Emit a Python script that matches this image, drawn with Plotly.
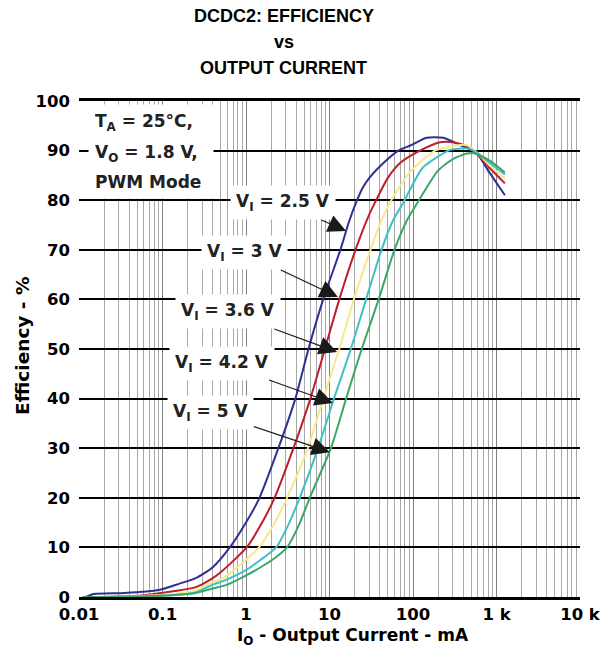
import math
import plotly.graph_objects as go

# ---------------- data ----------------
blue_x = [0.012, 0.015, 0.035, 0.09, 0.16, 0.25, 0.4, 0.64, 1.0, 1.45, 2.44, 3.9, 5.6, 8.4, 13.5, 17, 20.8, 25, 30, 40, 66.7, 95, 145, 230, 366, 575, 830, 1260]
blue_y = [0, 0.6, 0.8, 1.4, 2.7, 3.8, 6.0, 10, 15, 20, 30, 40, 50, 60, 70, 75.5, 79.5, 82.5, 84.5, 86.8, 90, 91.1, 92.6, 92.6, 91.1, 89.5, 85.5, 81]

red_x = [0.02, 0.056, 0.14, 0.25, 0.4, 0.53, 1.02, 1.5, 2.2, 3.7, 5.9, 8.8, 13.1, 20.5, 28, 35, 50, 70, 121, 210, 300, 430, 575, 830, 1260]
red_y = [0, 0.3, 1.2, 2.0, 3.8, 5.4, 10, 14.5, 20, 30, 40, 50, 60, 70, 76, 79.5, 84.5, 87.5, 90, 91.7, 91.7, 91, 89.5, 86.5, 83.4]

yellow_x = [0.032, 0.14, 0.25, 0.4, 0.53, 1.0, 1.43, 2.1, 3.1, 5.5, 8.4, 13.1, 19.6, 31, 42, 53, 90, 183, 340, 440, 575, 830, 1260]
yellow_y = [0, 0.6, 1.3, 3.0, 3.8, 7.5, 10, 14.3, 20, 30, 40, 50, 60, 70, 76, 79.5, 85.5, 90, 91.1, 91.1, 89.7, 87, 84.4]

cyan_x = [0.04, 0.14, 0.25, 0.4, 0.55, 1.02, 1.5, 2.3, 3.2, 4.4, 7.3, 11.3, 18, 27.4, 42, 58, 76.5, 130, 265, 366, 460, 575, 830, 1260]
cyan_y = [0, 0.4, 0.9, 2.5, 3.3, 5.5, 7.5, 10, 14.5, 20, 30, 40, 50, 60, 70, 76, 79.5, 86.5, 90, 90.4, 90.4, 89.7, 87.5, 85.2]

green_x = [0.011, 0.05, 0.14, 0.25, 0.4, 0.6, 1.02, 1.5, 2.2, 3.1, 4.3, 5.8, 10.4, 15.8, 24.3, 38.8, 60, 85, 113, 200, 300, 440, 525, 830, 1260]
green_y = [0, 0.1, 0.4, 0.8, 1.7, 2.5, 4.4, 6, 7.8, 10, 14.5, 20, 30, 40, 50, 60, 70, 76, 79.5, 86, 88.3, 89.4, 89.5, 88, 85.6]

series_names = ["V<sub>I</sub> = 2.5 V", "V<sub>I</sub> = 3 V", "V<sub>I</sub> = 3.6 V", "V<sub>I</sub> = 4.2 V", "V<sub>I</sub> = 5 V"]
series_colors = ["#2E3192", "#BE1E2D", "#F7E98A", "#3EC1C4", "#3BA56B"]

# arrow tip positions on each curve (current mA, efficiency %)
label_tip_x = [15.8, 12.6, 12.3, 11.0, 10.1]
label_tip_y = [73.8, 60.5, 49.4, 39.1, 29.2]
label_off_x = [-63, -93, -109, -111, -119]
label_off_y = [-28, -44, -40, -40, -40]

x_tick_vals = [0.01, 0.1, 1, 10, 100, 1000, 10000]
x_tick_text = ["0.01", "0.1", "1", "10", "100", "1 k", "10 k"]
y_tick_vals = [0, 10, 20, 30, 40, 50, 60, 70, 80, 90, 100]
minor_vals = [m * 10.0 ** d for d in range(-2, 4) for m in range(2, 10)]

TITLE_FONT = "Liberation Sans, Arial, Helvetica, sans-serif"
FONT = "DejaVu Sans, Verdana, sans-serif"

fig = go.Figure()
data = [(blue_x, blue_y), (red_x, red_y), (yellow_x, yellow_y), (cyan_x, cyan_y), (green_x, green_y)]
for (xs, ys), name, col in zip(data, series_names, series_colors):
    fig.add_trace(go.Scatter(x=xs, y=ys, mode="lines", name=name,
                             line=dict(color=col, width=2, shape="spline", smoothing=0.6),
                             showlegend=False))

# title lines
for txt, yy in [("DCDC2: EFFICIENCY", 1.171), ("vs", 1.119), ("OUTPUT CURRENT", 1.0665)]:
    fig.add_annotation(text=txt, xref="paper", yref="paper", x=0.409, y=yy,
                       xanchor="center", yanchor="middle", showarrow=False,
                       font=dict(family=TITLE_FONT, size=18, color="black", weight="bold"))

# condition box
for txt, yy in [("T<sub>A</sub> = 25°C,", 0.956), ("V<sub>O</sub> = 1.8 V,", 0.895), ("PWM Mode", 0.837)]:
    fig.add_annotation(text=txt, xref="paper", yref="paper", x=0.018, y=yy, xanchor="left",
                       yanchor="middle", align="left", width=112, showarrow=False,
                       bgcolor="white", borderpad=6,
                       font=dict(family=FONT, size=17, color="#222", weight="bold"))

# series labels with arrows (annotation x on a log axis is given in log10 units)
for name, tx, ty, ox, oy in zip(series_names, label_tip_x, label_tip_y, label_off_x, label_off_y):
    fig.add_annotation(text=name, x=math.log10(tx), y=ty, xref="x", yref="y", ax=ox, ay=oy,
                       showarrow=True, arrowhead=2, arrowsize=3.0, arrowwidth=1.2, arrowcolor="#1a1a1a",
                       bgcolor="white", borderpad=5,
                       font=dict(family=FONT, size=17, color="#222", weight="bold"))

# axis titles
fig.add_annotation(text="I<sub>O</sub> - Output Current - mA", xref="paper", yref="paper",
                   x=0.547, y=-0.079, xanchor="center", yanchor="middle", showarrow=False,
                   font=dict(family=FONT, size=17, color="black", weight="bold"))
fig.add_annotation(text="Efficiency - %", xref="paper", yref="paper", x=-0.114, y=0.506,
                   xanchor="center", yanchor="middle", textangle=-90, showarrow=False,
                   font=dict(family=FONT, size=18.5, color="black", weight="bold"))

fig.update_xaxes(type="log", range=[-2, 4], tickvals=x_tick_vals, ticktext=x_tick_text,
                 showgrid=True, gridcolor="#808080", gridwidth=1,
                 minor=dict(tickvals=minor_vals, showgrid=True, gridcolor="#a8a8a8", gridwidth=1, ticks=""),
                 showline=True, mirror=True, linecolor="black", linewidth=2.5,
                 ticks="", zeroline=False,
                 tickfont=dict(family=FONT, size=16.5, color="black", weight="bold"))
fig.update_yaxes(range=[0, 100], tickvals=y_tick_vals, showgrid=True, gridcolor="black", gridwidth=1.6,
                 zeroline=False, showline=False, ticks="", ticklabelstandoff=8,
                 tickfont=dict(family=FONT, size=16.5, color="black", weight="bold"))

fig.update_layout(width=614, height=655, margin=dict(l=79, r=34, t=101, b=58),
                  paper_bgcolor="white", plot_bgcolor="white", showlegend=False,
                  font=dict(family=FONT))

fig.write_html("out.html")
